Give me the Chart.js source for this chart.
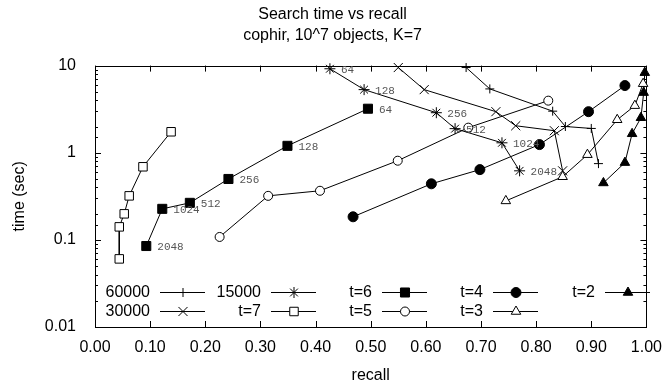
<!DOCTYPE html>
<html>
<head>
<meta charset="utf-8">
<script src="https://cdn.jsdelivr.net/npm/chart.js@4/dist/chart.umd.min.js"></script>
<style>
  html, body { margin: 0; padding: 0; background: #fff; }
</style>
</head>
<body>
<canvas id="chart" width="665" height="387"></canvas>
<script>
// values (recall, time in sec)
const recall60000 = [0.673, 0.716, 0.830, 0.853, 0.900, 0.913];
const time60000   = [9.5, 5.4, 3.0, 2.0, 1.9, 0.75];
const recall30000 = [0.550, 0.597, 0.727, 0.763, 0.833, 0.848];
const time30000   = [9.5, 5.3, 2.96, 2.04, 1.79, 0.62];
const recall15000 = [0.426, 0.488, 0.619, 0.653, 0.738, 0.770];
const time15000   = [9.2, 5.3, 2.88, 1.89, 1.30, 0.62];
const labels15000 = ['64', '128', '256', '512', '1024', '2048'];
const recallT7 = [0.138, 0.087, 0.062, 0.053, 0.044, 0.044];
const timeT7   = [1.74, 0.69, 0.32, 0.199, 0.141, 0.0605];
const recallT6 = [0.495, 0.349, 0.242, 0.172, 0.122, 0.093];
const timeT6   = [3.2, 1.20, 0.50, 0.266, 0.227, 0.085];
const labelsT6 = ['64', '128', '256', '512', '1024', '2048'];
const recallT5 = [0.226, 0.314, 0.408, 0.549, 0.677, 0.822];
const timeT5   = [0.108, 0.32, 0.366, 0.81, 1.94, 3.96];
const recallT4 = [0.468, 0.610, 0.698, 0.806, 0.895, 0.961];
const timeT4   = [0.184, 0.44, 0.64, 1.24, 2.96, 5.9];
const recallT3 = [0.745, 0.848, 0.893, 0.947, 0.979, 0.994];
const timeT3   = [0.28, 0.53, 0.95, 2.39, 3.47, 6.2];
const recallT2 = [0.922, 0.961, 0.974, 0.990, 0.995, 0.997];
const timeT2   = [0.45, 0.77, 1.65, 2.52, 4.9, 8.3];

const titleLines = ['Search time vs recall', 'cophir, 10^7 objects, K=7'];
const xTitle = 'recall';
const yTitle = 'time (sec)';

Chart.defaults.font.family = '"Liberation Sans", Arial, sans-serif';
Chart.defaults.font.size = 16;
Chart.defaults.color = '#000';

function makeSet(label, xs, ys, style, radius, fill, pointLabels) {
  return {
    label,
    data: xs.map((x, i) => ({ x, y: ys[i] })),
    showLine: true,
    borderColor: '#000',
    borderWidth: 1,
    pointStyle: style,
    pointRadius: radius,
    pointHoverRadius: radius,
    pointBorderColor: '#000',
    pointBorderWidth: 1,
    pointBackgroundColor: fill,
    clip: false,
    pointLabels
  };
}

const isDecade = v => Math.abs(Math.log10(v) - Math.round(Math.log10(v))) < 1e-6;

// gnuplot-style frame with inward ticks on all four sides
const frameTicks = {
  id: 'frameTicks',
  beforeDatasetsDraw(chart) {
    const { ctx, chartArea: a, scales: { x, y } } = chart;
    ctx.save();
    ctx.strokeStyle = '#000';
    ctx.lineWidth = 1;
    ctx.beginPath();
    x.ticks.forEach(t => {
      const px = Math.round(x.getPixelForValue(t.value)) + 0.5;
      ctx.moveTo(px, a.bottom); ctx.lineTo(px, a.bottom - 6);
      ctx.moveTo(px, a.top); ctx.lineTo(px, a.top + 6);
    });
    y.ticks.forEach(t => {
      const py = Math.round(y.getPixelForValue(t.value)) + 0.5;
      const len = isDecade(t.value) ? 6 : 3;
      ctx.moveTo(a.left, py); ctx.lineTo(a.left + len, py);
      ctx.moveTo(a.right, py); ctx.lineTo(a.right - len, py);
    });
    ctx.stroke();
    ctx.strokeRect(Math.round(a.left) + 0.5, Math.round(a.top) + 0.5,
      Math.round(a.right - a.left), Math.round(a.bottom - a.top));
    ctx.restore();
  }
};

// small grey labels next to the points (64 ... 2048)
const pointText = {
  id: 'pointText',
  afterDatasetsDraw(chart) {
    const ctx = chart.ctx;
    ctx.save();
    ctx.font = '11px "Liberation Mono", "DejaVu Sans Mono", monospace';
    ctx.fillStyle = '#555';
    ctx.textAlign = 'left';
    ctx.textBaseline = 'middle';
    chart.data.datasets.forEach((ds, i) => {
      if (!ds.pointLabels) return;
      chart.getDatasetMeta(i).data.forEach((pt, j) => {
        ctx.fillText(ds.pointLabels[j], pt.x + 11, pt.y + 1);
      });
    });
    ctx.restore();
  }
};

// key laid out like gnuplot: text right-aligned, then line sample with marker
const keyLayout = {
  id: 'keyLayout',
  afterDatasetsDraw(chart) {
    const ctx = chart.ctx;
    const cols = [150, 261, 372, 483, 595];
    const rows = [292, 311];
    ctx.save();
    ctx.font = '16px "Liberation Sans", Arial, sans-serif';
    ctx.textAlign = 'right';
    ctx.textBaseline = 'middle';
    chart.data.datasets.forEach((ds, i) => {
      const cx = cols[Math.floor(i / 2)];
      const cy = rows[i % 2];
      ctx.fillStyle = '#000';
      ctx.fillText(ds.label, cx, cy + 1);
      ctx.strokeStyle = '#000';
      ctx.lineWidth = 1;
      ctx.beginPath();
      ctx.moveTo(cx + 10, cy + 0.5);
      ctx.lineTo(cx + 55, cy + 0.5);
      ctx.stroke();
      ctx.fillStyle = ds.pointBackgroundColor;
      Chart.helpers.drawPoint(ctx, { pointStyle: ds.pointStyle, radius: ds.pointRadius, borderWidth: 1, rotation: 0 }, cx + 33, cy + 0.5);
    });
    ctx.restore();
  }
};

new Chart(document.getElementById('chart'), {
  type: 'scatter',
  data: {
    datasets: [
      makeSet('60000', recall60000, time60000, 'cross', 4.5, '#fff'),
      makeSet('30000', recall30000, time30000, 'crossRot', 6.4, '#fff'),
      makeSet('15000', recall15000, time15000, 'star', 5.5, '#fff', labels15000),
      makeSet('t=7', recallT7, timeT7, 'rect', 6, '#fff'),
      makeSet('t=6', recallT6, timeT6, 'rect', 6.4, '#000', labelsT6),
      makeSet('t=5', recallT5, timeT5, 'circle', 4.5, '#fff'),
      makeSet('t=4', recallT4, timeT4, 'circle', 5, '#000'),
      makeSet('t=3', recallT3, timeT3, 'triangle', 5.5, '#fff'),
      makeSet('t=2', recallT2, timeT2, 'triangle', 5.5, '#000')
    ]
  },
  options: {
    responsive: false,
    animation: false,
    layout: { padding: { top: 0, right: 0, bottom: 0, left: 0 } },
    plugins: {
      legend: { display: false },
      tooltip: { enabled: false },
      title: {
        display: true,
        text: titleLines,
        font: { size: 16, weight: 'normal', lineHeight: 1.3 },
        padding: { top: 4, bottom: 20 }
      }
    },
    scales: {
      x: {
        type: 'linear',
        min: 0,
        max: 1,
        grid: { display: false },
        border: { display: false },
        ticks: { stepSize: 0.1, autoSkip: false, maxRotation: 0, padding: 3, callback: v => v.toFixed(2) },
        title: { display: true, text: xTitle, padding: { top: 0, bottom: 2 } },
        afterFit: s => { s.height = 60; }
      },
      y: {
        type: 'logarithmic',
        min: 0.01,
        max: 10,
        grid: { display: false },
        border: { display: false },
        ticks: { autoSkip: false, padding: 11, callback: v => isDecade(v) ? String(+v.toPrecision(3)) : '' },
        title: { display: true, text: yTitle, padding: { top: 10, bottom: 0 } },
        afterFit: s => { s.width = 95; }
      }
    }
  },
  plugins: [frameTicks, pointText, keyLayout]
});
</script>
</body>
</html>
